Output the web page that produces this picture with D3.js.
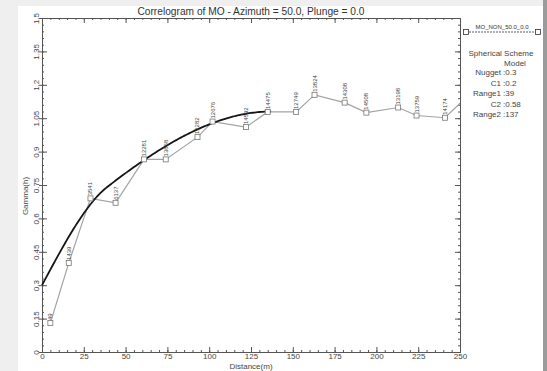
<!DOCTYPE html>
<html>
<head>
<meta charset="utf-8">
<script src="https://cdn.jsdelivr.net/npm/d3@7"></script>
<style>
  body { margin: 0; background: #efefef; }
  svg { display: block; font-family: "Liberation Sans", Arial, sans-serif; }
</style>
</head>
<body>
<div id="chart"></div>
<script>
// experimental correlogram points (lag distance, gamma, pair count)
var lags   = [5, 16, 29, 44, 61, 74, 93, 102, 122, 135, 152, 163, 181, 194, 213, 224, 241, 256];
var gammas = [0.13, 0.40, 0.69, 0.67, 0.865, 0.865, 0.965, 1.035, 1.01, 1.078, 1.078, 1.155, 1.12, 1.075, 1.098, 1.062, 1.052, 1.16];
var pairs  = ["49", "1439", "3541", "6137", "12281", "13868", "12282", "12676", "14592", "14475", "12749", "13824", "14308", "14508", "13198", "13759", "14174", ""];

// spherical model parameters
var modelNames  = ["Nugget", "C1", "Range1", "C2", "Range2"];
var modelValues = ["0.3", "0.2", "39", "0.58", "137"];
var nugget = 0.3, c1 = 0.2, range1 = 39, c2 = 0.58, range2 = 137;

var xTicks = [0, 25, 50, 75, 100, 125, 150, 175, 200, 225, 250];
var yTicks = [0, 0.15, 0.3, 0.45, 0.6, 0.75, 0.9, 1.05, 1.2, 1.35, 1.5];

var width = 547, height = 371;
var mLeft = 42, mRight = 460, mTop = 18, mBottom = 352;

var svg = d3.select("#chart").append("svg")
  .attr("width", width)
  .attr("height", height);

// page background panel
svg.append("rect").attr("x", 0).attr("y", 0).attr("width", width).attr("height", height).attr("fill", "#efefef");
svg.append("rect").attr("x", 18).attr("y", 6).attr("width", 525).attr("height", 365).attr("fill", "#ffffff");
svg.append("rect").attr("x", 543).attr("y", 0).attr("width", 4).attr("height", height).attr("fill", "#9b9b9b");

var x = d3.scaleLinear().domain([0, 250]).range([mLeft, mRight]);
var y = d3.scaleLinear().domain([0, 1.5]).range([mBottom, mTop]);

var minorX = d3.range(0, 251, 5);
var minorY = d3.range(0, 51).map(function(i) { return i * 0.03; });
var axisColor = "#555";

function styleAxis(g) {
  g.select(".domain").style("stroke", axisColor).style("stroke-width", "1px");
  g.selectAll(".tick line").style("stroke", axisColor);
  g.selectAll(".tick text").style("fill", "#444").style("font-size", "8px");
}

// minor ticks
svg.append("g").attr("transform", "translate(0," + mBottom + ")")
  .call(d3.axisBottom(x).tickValues(minorX).tickSize(-2).tickFormat(""))
  .call(styleAxis);
svg.append("g").attr("transform", "translate(0," + mTop + ")")
  .call(d3.axisTop(x).tickValues(minorX).tickSize(-2).tickFormat(""))
  .call(styleAxis);
svg.append("g").attr("transform", "translate(" + mLeft + ",0)")
  .call(d3.axisLeft(y).tickValues(minorY).tickSize(-2).tickFormat(""))
  .call(styleAxis);
svg.append("g").attr("transform", "translate(" + mRight + ",0)")
  .call(d3.axisRight(y).tickValues(minorY).tickSize(-2).tickFormat(""))
  .call(styleAxis);

// major ticks
var xAxis = svg.append("g").attr("transform", "translate(0," + mBottom + ")")
  .call(d3.axisBottom(x).tickValues(xTicks).tickSize(-5).tickFormat(d3.format("d")))
  .call(styleAxis);
xAxis.selectAll(".tick text").attr("y", 1);
svg.append("g").attr("transform", "translate(0," + mTop + ")")
  .call(d3.axisTop(x).tickValues(xTicks).tickSize(-5).tickFormat(""))
  .call(styleAxis);
var yAxis = svg.append("g").attr("transform", "translate(" + mLeft + ",0)")
  .call(d3.axisLeft(y).tickValues(yTicks).tickSize(-5).tickFormat(function(d) { return String(+d.toFixed(2)); }))
  .call(styleAxis);
yAxis.selectAll(".tick text")
  .attr("x", null).attr("dy", null)
  .attr("transform", "translate(-3,0) rotate(-90)")
  .style("text-anchor", "middle");
yAxis.selectAll(".tick").append("line").attr("x1", -3).attr("x2", 0).style("stroke", axisColor);
svg.append("g").attr("transform", "translate(" + mRight + ",0)")
  .call(d3.axisRight(y).tickValues(yTicks).tickSize(-5).tickFormat(""))
  .call(styleAxis);

// title and axis labels
svg.append("text").attr("x", 251).attr("y", 15)
  .attr("text-anchor", "middle").style("font-size", "10.2px").style("fill", "#333")
  .text("Correlogram of MO - Azimuth = 50.0, Plunge = 0.0");
svg.append("text").attr("x", (mLeft + mRight) / 2).attr("y", 369)
  .attr("text-anchor", "middle").style("font-size", "8px").style("fill", "#444")
  .text("Distance(m)");
svg.append("text").attr("transform", "translate(28," + 196 + ") rotate(-90)")
  .attr("text-anchor", "middle").style("font-size", "8px").style("fill", "#444")
  .text("Gamma(h)");

svg.append("clipPath").attr("id", "plotClip")
  .append("rect").attr("x", mLeft).attr("y", mTop).attr("width", mRight - mLeft).attr("height", mBottom - mTop);

var points = lags.map(function(d, i) { return { h: d, g: gammas[i], n: pairs[i] }; });

// experimental line
svg.append("path")
  .datum(points)
  .attr("clip-path", "url(#plotClip)")
  .attr("d", d3.line().x(function(d) { return x(d.h); }).y(function(d) { return y(d.g); }))
  .style("fill", "none").style("stroke", "#a3a3a3").style("stroke-width", "1.2px");

// spherical model curve
function sph(h, a) { var r = h / a; return r >= 1 ? 1 : 1.5 * r - 0.5 * r * r * r; }
var modelH = d3.range(0, range2 + 0.5, 1);
svg.append("path")
  .datum(modelH)
  .attr("d", d3.line().x(function(h) { return x(h); })
    .y(function(h) { return y(nugget + c1 * sph(h, range1) + c2 * sph(h, range2)); }))
  .style("fill", "none").style("stroke", "#151515").style("stroke-width", "1.8px");

// markers and pair counts
var inside = points.filter(function(d) { return d.h <= 250; });
svg.selectAll(".pt").data(inside).enter().append("rect")
  .attr("x", function(d) { return x(d.h) - 2.5; })
  .attr("y", function(d) { return y(d.g) - 2.5; })
  .attr("width", 5).attr("height", 5)
  .style("fill", "#fff").style("stroke", "#777").style("stroke-width", "0.8px");
svg.selectAll(".lbl").data(inside).enter().append("text")
  .attr("transform", function(d) { return "translate(" + (x(d.h) + 2) + "," + (y(d.g) - 3) + ") rotate(-90)"; })
  .style("font-size", "6px").style("fill", "#444")
  .text(function(d) { return d.n; });

// legend
var lg = svg.append("g");
lg.append("line").attr("x1", 466).attr("x2", 538).attr("y1", 32).attr("y2", 32)
  .style("stroke", "#333").style("stroke-width", "0.8px").style("stroke-dasharray", "2,1");
[466, 538].forEach(function(px) {
  lg.append("rect").attr("x", px - 2.5).attr("y", 29.5).attr("width", 5).attr("height", 5)
    .style("fill", "#fff").style("stroke", "#333").style("stroke-width", "0.8px");
});
lg.append("text").attr("x", 502).attr("y", 29).attr("text-anchor", "middle")
  .style("font-size", "6px").style("fill", "#333").text("MO_NON_50.0_0.0");
lg.append("text").attr("x", 501).attr("y", 56).attr("text-anchor", "middle")
  .style("font-size", "8px").style("fill", "#444").text("Spherical Scheme");
lg.append("text").attr("x", 515).attr("y", 66).attr("text-anchor", "middle")
  .style("font-size", "8px").style("fill", "#444").text("Model");
modelNames.forEach(function(name, i) {
  lg.append("text").attr("x", 501).attr("y", 75 + i * 10.6).attr("text-anchor", "end")
    .style("font-size", "8px").style("fill", "#444").text(name);
  lg.append("text").attr("x", 503).attr("y", 75 + i * 10.6)
    .style("font-size", "8px").style("fill", "#444").text(":" + modelValues[i]);
});
</script>
</body>
</html>
